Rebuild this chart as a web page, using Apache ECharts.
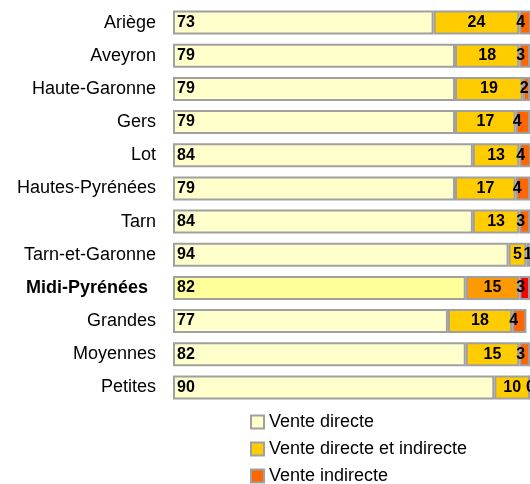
<!DOCTYPE html>
<html>
<head>
<meta charset="utf-8">
<script src="https://cdn.jsdelivr.net/npm/echarts@6/dist/echarts.min.js"></script>
<style>
  html, body { margin: 0; padding: 0; background: #fff; }
  #chart { width: 530px; height: 484px; }
</style>
</head>
<body>
<div id="chart"></div>
<script>
var categories = ["Ariège", "Aveyron", "Haute-Garonne", "Gers", "Lot", "Hautes-Pyrénées",
  "Tarn", "Tarn-et-Garonne", "Midi-Pyrénées", "Grandes", "Moyennes", "Petites"];
var directe = [73, 79, 79, 79, 84, 79, 84, 94, 82, 77, 82, 90];
var directeIndirecte = [24, 18, 19, 17, 13, 17, 13, 5, 15, 18, 15, 10];
var indirecte = [4, 3, 2, 4, 4, 4, 3, 1, 3, 4, 3, 0];
var seriesNames = ["Vente directe", "Vente directe et indirecte", "Vente indirecte"];

var highlight = "Midi-Pyrénées";
var font = "Liberation Sans";
var border = "#a0a0a0";

// couleurs normales / ligne Midi-Pyrénées
var colors = ["#FFFFCC", "#FFCC00", "#FF6600"];
var hiColors = ["#FFFF99", "#FF9900", "#FF0000"];

function buildData(values, idx) {
  return values.map(function(v, i) {
    if (categories[i] === highlight) {
      return { value: v, itemStyle: { color: hiColors[idx] } };
    }
    return v;
  });
}

var labelBase = {
  show: true,
  color: "#000",
  fontFamily: font,
  fontWeight: "bold",
  fontSize: 16
};

var chart = echarts.init(document.getElementById("chart"));

var option = {
  animation: false,
  backgroundColor: "#fff",
  grid: { left: 173, top: 6, width: 359, bottom: 80 },
  xAxis: {
    type: "value",
    min: 0,
    max: 100,
    show: false
  },
  yAxis: {
    type: "category",
    inverse: true,
    data: categories,
    axisLine: { show: false },
    axisTick: { show: false },
    axisLabel: {
      margin: 17,
      color: "#000",
      fontFamily: font,
      fontSize: 18,
      formatter: function(v) {
        return v === highlight ? "{b|" + v + "}" : v;
      },
      rich: {
        b: { fontFamily: font, fontSize: 18, fontWeight: "bold", color: "#000", padding: [0, 8, 0, 0] }
      }
    }
  },
  legend: {
    orient: "vertical",
    left: 250,
    top: 413,
    height: 90,
    padding: 0,
    itemWidth: 13,
    itemHeight: 13,
    itemGap: 9,
    icon: "rect",
    data: seriesNames,
    textStyle: { color: "#000", fontFamily: font, fontSize: 18 }
  },
  series: [
    {
      name: seriesNames[0],
      type: "bar",
      stack: "total",
      barWidth: 24,
      data: buildData(directe, 0),
      itemStyle: { color: colors[0], borderColor: border, borderWidth: 2 },
      label: Object.assign({}, labelBase, { position: "insideLeft", distance: 4 })
    },
    {
      name: seriesNames[1],
      type: "bar",
      stack: "total",
      barWidth: 24,
      data: buildData(directeIndirecte, 1),
      itemStyle: { color: colors[1], borderColor: border, borderWidth: 2 },
      label: Object.assign({}, labelBase, { position: "inside" })
    },
    {
      name: seriesNames[2],
      type: "bar",
      stack: "total",
      barWidth: 24,
      data: buildData(indirecte, 2),
      itemStyle: { color: colors[2], borderColor: border, borderWidth: 2 },
      label: Object.assign({}, labelBase, { position: "insideLeft", distance: 0, offset: [-3, 0] })
    }
  ]
};

chart.setOption(option);
</script>
</body>
</html>
